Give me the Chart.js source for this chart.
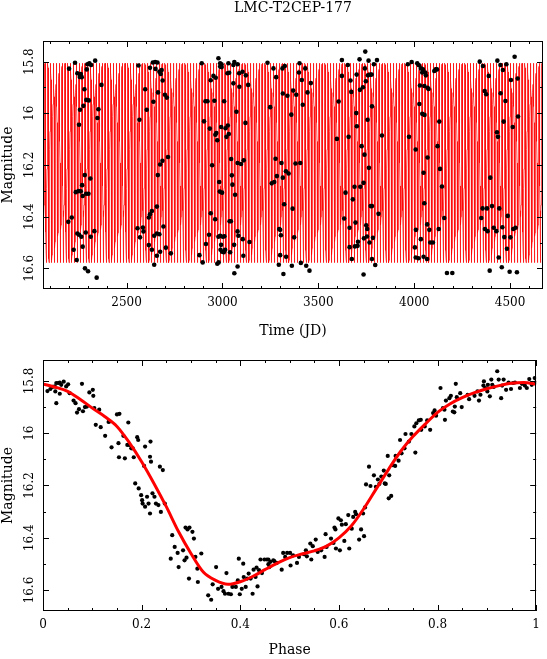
<!DOCTYPE html>
<html>
<head>
<meta charset="utf-8">
<script src="https://cdn.jsdelivr.net/npm/chart.js@4.4.1/dist/chart.umd.min.js"></script>
<style>
  body { margin: 0; background: #fff; }
  #wrap { position: relative; width: 547px; height: 659px; }
  canvas { position: absolute; left: 0; }
  #timeChart { top: 0; }
  #phaseChart { top: 340px; }
</style>
</head>
<body>
<div id="wrap">
  <canvas id="timeChart" width="547" height="340"></canvas>
  <canvas id="phaseChart" width="547" height="319"></canvas>
</div>
<script>
// star and fit
const starName = 'LMC-T2CEP-177';
const period = 14.9;
const epoch = 2060;

// fitted light curve (phase, magnitude)
const modelPhase = [0, 0.025, 0.05, 0.075, 0.1, 0.125, 0.15, 0.175, 0.2, 0.225, 0.25, 0.275, 0.3, 0.325, 0.35, 0.375, 0.4,
  0.425, 0.45, 0.475, 0.5, 0.525, 0.55, 0.575, 0.6, 0.625, 0.65, 0.675, 0.7, 0.725, 0.75, 0.775, 0.8, 0.825, 0.85,
  0.875, 0.9, 0.925, 0.95, 0.975, 1];
const modelMag = [15.812, 15.824, 15.840, 15.870, 15.904, 15.936, 15.974, 16.036, 16.109, 16.192, 16.281, 16.377, 16.460,
  16.531, 16.563, 16.578, 16.568, 16.548, 16.522, 16.497, 16.476, 16.462, 16.450, 16.432, 16.400, 16.355, 16.290,
  16.215, 16.140, 16.070, 16.013, 15.965, 15.920, 15.888, 15.864, 15.845, 15.830, 15.818, 15.809, 15.806, 15.812];

// observations vs time
const timeJD = [
  2200, 2231, 2243, 2256, 2261, 2266, 2292, 2296, 2306, 2315, 2336, 2369, 2280, 2290, 2303, 2275, 2257, 2252, 2353, 2348,
  2196, 2214, 2235, 2249, 2261, 2268, 2282, 2271, 2289, 2301, 2311, 2243, 2252, 2264, 2287, 2313, 2332, 2224, 2271, 2240,
  2283, 2299, 2344,
  2562, 2567, 2597, 2605, 2622, 2637, 2649, 2661, 2651, 2671, 2683, 2678, 2688, 2664, 2640, 2700, 2710, 2687, 2675, 2716,
  2663, 2658, 2632, 2622, 2616, 2557, 2570, 2588, 2585, 2644, 2658, 2671, 2692, 2616, 2632, 2658, 2675, 2705, 2731, 2644,
  2880, 2892, 2897, 2904, 2911, 2914, 2922, 2930, 2934, 2939, 2939, 2946, 2953, 2958, 2962, 2965, 2963, 2968, 2973, 2973,
  2980, 2979, 2988, 2995, 2988, 2996, 2983, 2986, 2998, 2993, 2990, 2998, 3007, 3014, 3002, 2979, 2988, 2993, 3010, 3009,
  3016, 3021, 3026, 3031, 3035, 3028, 3033, 3037, 3044, 3040, 3045, 3049, 3052, 3057, 3066, 3061, 3062, 3073, 3079, 3079,
  3083, 3079, 3088, 3097, 3087, 3105, 3111, 3106, 3120, 3122, 3134, 3141, 3109, 3079, 3062, 3057,
  3235, 3266, 3280, 3249, 3277, 3284, 3257, 3270, 3294, 3296, 3301, 3305, 3301, 3313, 3325, 3315, 3315, 3308, 3318, 3322,
  3331, 3332, 3339, 3345, 3359, 3362, 3366, 3369, 3374, 3381, 3385, 3399, 3402, 3406, 3409, 3414, 3419, 3432, 3437, 3444,
  3454, 3461,
  3597, 3606, 3623, 3623, 3635, 3642, 3654, 3658, 3663, 3663, 3668, 3672, 3675, 3680, 3689, 3691, 3694, 3698, 3700, 3701,
  3705, 3707, 3715, 3717, 3719, 3726, 3733, 3736, 3738, 3741, 3743, 3745, 3748, 3750, 3754, 3755, 3757, 3759, 3762, 3764,
  3767, 3771, 3773, 3780, 3780, 3778, 3780, 3785, 3790, 3797, 3806, 3814, 3832, 3736,
  3967, 3973, 3987, 4004, 4008, 4009, 4008, 4016, 4022, 4025, 4030, 4027, 4035, 4035, 4042, 4046, 4042, 4049, 4053, 4049,
  4053, 4054, 4058, 4061, 4067, 4070, 4070, 4075, 4068, 4079, 4084, 4098, 4105, 4112, 4119, 4122, 4128, 4131, 4135, 4145,
  4157, 4171, 4199,
  4342, 4350, 4357, 4359, 4368, 4369, 4376, 4383, 4380, 4389, 4394, 4397, 4406, 4415, 4429, 4432, 4434, 4437, 4441, 4444,
  4450, 4451, 4457, 4460, 4463, 4467, 4470, 4476, 4481, 4484, 4488, 4498, 4502, 4505, 4514, 4517, 4524, 4529, 4536, 4540,
  4542
];
const timeMag = [
  15.827, 15.804, 15.845, 15.859, 15.848, 15.860, 15.830, 15.810, 15.806, 15.813, 15.796, 15.890, 15.907, 15.948, 15.950, 15.971, 15.986, 16.044, 15.984, 16.018,
  16.420, 16.403, 16.305, 16.301, 16.302, 16.278, 16.239, 16.320, 16.311, 16.311, 16.252, 16.465, 16.470, 16.478, 16.461, 16.478, 16.456, 16.528, 16.516, 16.568,
  16.600, 16.611, 16.636,
  15.815, 16.025, 15.907, 15.986, 15.824, 15.803, 15.801, 15.803, 15.828, 15.839, 15.832, 15.848, 15.873, 15.919, 15.955, 15.928, 15.939, 16.184, 16.198, 16.169,
  16.239, 16.361, 16.378, 16.391, 16.403, 16.445, 16.480, 16.457, 16.442, 16.474, 16.465, 16.468, 16.438, 16.510, 16.528, 16.551, 16.536, 16.520, 16.542, 16.586,
  16.549, 15.806, 16.577, 16.031, 15.953, 16.506, 15.953, 16.470, 16.059, 16.387, 15.872, 16.201, 15.855, 15.951, 16.410, 15.862, 16.083, 16.076, 16.104, 16.582,
  16.577, 15.787, 15.806, 15.810, 15.819, 15.821, 16.266, 16.303, 16.307, 16.053, 16.528, 16.536, 16.538, 16.528, 16.478, 16.478, 16.474, 16.509, 16.476, 15.953,
  16.058, 16.091, 15.845, 15.806, 15.843, 16.047, 16.080, 16.418, 16.418, 16.538, 16.177, 16.240, 16.276, 15.884, 16.315, 16.509, 16.619, 15.994, 16.593, 16.457,
  16.474, 16.192, 15.897, 16.196, 15.845, 15.839, 16.182, 16.487, 16.037, 15.853, 15.890, 16.498, 16.551, 15.810, 15.801, 15.813,
  15.804, 15.826, 15.860, 15.976, 16.176, 16.243, 16.271, 16.266, 16.586, 16.448, 16.451, 16.472, 16.549, 15.826, 15.817, 15.923, 16.249, 16.192, 16.622, 16.352,
  16.224, 16.555, 15.932, 16.233, 16.005, 16.590, 16.369, 15.912, 16.480, 16.194, 15.928, 15.842, 15.806, 16.192, 16.579, 15.871, 15.967, 15.826, 16.590, 15.919,
  16.609, 15.883,
  16.099, 15.954, 15.794, 15.855, 16.407, 16.307, 15.813, 16.091, 16.443, 16.518, 15.873, 15.917, 16.564, 16.333, 16.284, 16.515, 16.423, 15.999, 15.850, 16.050,
  16.513, 16.497, 15.791, 15.909, 16.284, 16.127, 15.899, 16.269, 16.484, 16.160, 15.826, 15.761, 15.876, 16.433, 16.477, 16.448, 16.025, 15.853, 15.796, 16.211,
  16.500, 15.850, 16.359, 16.359, 16.564, 15.850, 15.973, 16.482, 15.810, 16.587, 15.794, 16.389, 16.086, 16.624,
  15.810, 16.091, 15.801, 16.519, 16.140, 16.451, 16.558, 15.806, 16.561, 15.814, 15.892, 15.964, 16.487, 15.826, 15.842, 15.830, 16.002, 16.230, 16.348, 16.555,
  15.894, 16.006, 15.842, 15.853, 16.564, 16.171, 15.901, 15.906, 16.430, 16.451, 16.500, 16.500, 15.836, 15.830, 15.830, 16.127, 16.448, 16.032, 16.215, 16.283,
  16.405, 16.618, 16.618,
  15.800, 16.405, 16.368, 15.817, 15.914, 16.448, 15.926, 16.456, 16.368, 15.855, 16.609, 16.249, 16.359, 16.443, 16.456, 16.073, 15.796, 16.091, 16.558, 16.368,
  15.813, 15.922, 16.596, 16.441, 15.832, 16.032, 16.479, 15.952, 15.810, 16.524, 16.397, 16.613, 16.480, 15.871, 16.053, 16.448, 15.781, 16.443, 16.615, 15.865,
  16.012
];

// observations folded with the period
const phaseObs = [
  0.009, 0.015, 0.019, 0.024, 0.027, 0.031, 0.034, 0.037, 0.042, 0.047, 0.051, 0.027, 0.034, 0.025, 0.054, 0.062, 0.066, 0.069, 0.073, 0.079,
  0.081, 0.085, 0.089, 0.094, 0.101, 0.102, 0.104, 0.107, 0.114, 0.117, 0.126, 0.133, 0.135, 0.139, 0.150, 0.155, 0.153, 0.154, 0.163, 0.166,
  0.171, 0.173, 0.175, 0.179, 0.182, 0.184, 0.187, 0.191, 0.193, 0.194, 0.199, 0.201, 0.202, 0.205, 0.207, 0.207, 0.211, 0.214, 0.217, 0.218,
  0.217, 0.219, 0.222, 0.226, 0.229, 0.234, 0.237, 0.239, 0.243, 0.247, 0.262, 0.267, 0.259, 0.273, 0.275, 0.284, 0.287, 0.289, 0.293, 0.297,
  0.296, 0.291, 0.303, 0.306, 0.309, 0.313, 0.314, 0.321, 0.335, 0.341, 0.344, 0.351, 0.355, 0.362, 0.366, 0.369, 0.372, 0.376, 0.381, 0.384,
  0.391, 0.395, 0.397, 0.399, 0.403, 0.406, 0.407, 0.411, 0.414, 0.417, 0.421, 0.425, 0.427, 0.431, 0.433, 0.435, 0.438, 0.441, 0.444, 0.449,
  0.454, 0.457, 0.461, 0.467,
  0.457, 0.459, 0.469, 0.474, 0.484, 0.487, 0.491, 0.495, 0.501, 0.502, 0.507, 0.515, 0.519, 0.529, 0.533, 0.535, 0.542, 0.544, 0.547, 0.553,
  0.557, 0.564, 0.571, 0.573, 0.575, 0.584, 0.589, 0.591, 0.593, 0.594, 0.599, 0.604, 0.606, 0.611, 0.602, 0.614, 0.619, 0.621, 0.626, 0.629,
  0.633, 0.635, 0.641, 0.645, 0.649, 0.651, 0.653, 0.655, 0.661, 0.664, 0.671, 0.675, 0.679, 0.682, 0.686, 0.691, 0.693, 0.695, 0.699, 0.702,
  0.701, 0.706, 0.709, 0.714, 0.715, 0.721, 0.724, 0.727, 0.733, 0.735, 0.742, 0.747, 0.753, 0.755, 0.757, 0.762, 0.766, 0.767, 0.774, 0.779,
  0.785, 0.791, 0.794, 0.797, 0.806, 0.811, 0.814, 0.815, 0.817, 0.824, 0.827, 0.831, 0.834, 0.835, 0.837, 0.839, 0.846, 0.849, 0.861, 0.864,
  0.875, 0.881, 0.884, 0.887, 0.893, 0.894, 0.897, 0.901, 0.902, 0.906, 0.909, 0.911, 0.914, 0.921, 0.924, 0.929, 0.931, 0.934, 0.939, 0.944,
  0.949, 0.953, 0.957, 0.967, 0.971, 0.977, 0.981, 0.986, 0.991, 0.997, 0.999
];
const phaseMag = [
  15.839, 15.831, 15.823, 15.821, 15.808, 15.808, 15.806, 15.815, 15.803, 15.821, 15.813, 15.885, 15.849, 15.840, 15.847, 15.875, 15.885, 15.921, 15.908, 15.811,
  15.916, 15.900, 15.898, 15.844, 15.834, 15.857, 15.904, 15.968, 15.910, 15.977, 16.010, 15.957, 15.955, 16.054, 15.928, 15.926, 16.038, 16.092, 16.010, 16.096,
  16.045, 15.959, 16.045, 16.058, 16.058, 16.092, 16.192, 16.015, 16.026, 16.211, 16.237, 16.256, 16.269, 16.125, 16.051, 16.281, 16.243, 16.269, 16.090, 16.032,
  16.307, 16.109, 16.230, 16.243, 16.269, 16.275, 16.128, 16.301, 16.141, 16.269, 16.390, 16.435, 16.480, 16.458, 16.512, 16.448, 16.486, 16.361, 16.368, 16.361,
  16.556, 16.476, 16.377, 16.403, 16.473, 16.518, 16.569, 16.460, 16.620, 16.637, 16.578, 16.512, 16.595, 16.588, 16.604, 16.614, 16.535, 16.614, 16.616, 16.588,
  16.588, 16.563, 16.480, 16.616, 16.595, 16.499, 16.550, 16.588, 16.556, 16.537, 16.556, 16.614, 16.522, 16.550, 16.514, 16.586, 16.524, 16.483, 16.535, 16.483,
  16.483, 16.501, 16.492, 16.486,
  16.483, 16.512, 16.489, 16.496, 16.522, 16.458, 16.473, 16.458, 16.458, 16.506, 16.467, 16.496, 16.473, 16.463, 16.448, 16.471, 16.422, 16.483, 16.432, 16.407,
  16.454, 16.448, 16.473, 16.386, 16.435, 16.403, 16.420, 16.361, 16.368, 16.441, 16.326, 16.333, 16.350, 16.412, 16.448, 16.348, 16.313, 16.441, 16.365, 16.320,
  16.301, 16.310, 16.407, 16.368, 16.307, 16.394, 16.284, 16.196, 16.128, 16.202, 16.161, 16.205, 16.177, 16.194, 16.166, 16.143, 16.192, 16.194, 16.087, 16.161,
  16.249, 16.240, 16.122, 16.125, 16.087, 16.105, 16.026, 16.077, 16.058, 16.003, 16.032, 16.003, 15.974, 16.074, 15.962, 15.951, 15.949, 15.987, 15.974, 15.951,
  15.987, 15.923, 15.913, 15.933, 15.827, 15.904, 15.910, 15.949, 15.875, 15.866, 15.857, 15.917, 15.920, 15.898, 15.811, 15.862, 15.847, 15.900, 15.853, 15.870,
  15.857, 15.840, 15.875, 15.853, 15.818, 15.802, 15.827, 15.840, 15.815, 15.859, 15.795, 15.815, 15.823, 15.763, 15.795, 15.866, 15.818, 15.795, 15.834, 15.806,
  15.831, 15.808, 15.806, 15.827, 15.811, 15.818, 15.827, 15.793, 15.815, 15.789, 15.806
];

// axes
const magMin = 15.72, magMax = 16.68;
const jdMin = 2064, jdMax = 4672;
const magTicks = [15.8, 16, 16.2, 16.4, 16.6];
const magMinor = [15.9, 16.1, 16.3, 16.5];
const jdTicks = [2500, 3000, 3500, 4000, 4500];
const phaseTicks = [0, 0.2, 0.4, 0.6, 0.8, 1];

const fontFamily = '"DejaVu Serif", serif';

let jdMinor = [];
for (let v = 2100; v < jdMax; v += 100) jdMinor.push(v);
let phaseMinor = [];
for (let i = 1; i < 20; i++) phaseMinor.push(i / 20);

// model repeated over the whole time range
let modelTime = [];
for (let k = 0; epoch + k * period < jdMax + period; k++) {
  for (let i = 0; i < modelPhase.length - 1; i++) {
    modelTime.push({x: epoch + (k + modelPhase[i]) * period, y: modelMag[i]});
  }
}

// box, inward ticks, rotated magnitude labels and the title
const frameTicks = {
  id: 'frameTicks',
  afterDraw(chart, args, opts) {
    const {ctx, chartArea: a, scales: {x, y}} = chart;
    ctx.save();
    ctx.strokeStyle = '#000';
    ctx.lineWidth = 1;
    ctx.strokeRect(Math.round(a.left) + 0.5, Math.round(a.top) + 0.5,
      Math.round(a.right - a.left) - 1, Math.round(a.bottom - a.top) - 1);
    ctx.beginPath();
    const xt = (vals, len) => vals.forEach(v => {
      const p = Math.round(x.getPixelForValue(v)) + 0.5;
      ctx.moveTo(p, a.bottom); ctx.lineTo(p, a.bottom - len);
      ctx.moveTo(p, a.top); ctx.lineTo(p, a.top + len);
    });
    const yt = (vals, len) => vals.forEach(v => {
      const p = Math.round(y.getPixelForValue(v)) + 0.5;
      ctx.moveTo(a.left, p); ctx.lineTo(a.left + len, p);
      ctx.moveTo(a.right, p); ctx.lineTo(a.right - len, p);
    });
    xt(opts.xMajor, 6); xt(opts.xMinor, 3);
    yt(magTicks, 6); yt(magMinor, 3);
    ctx.stroke();

    ctx.fillStyle = '#000';
    ctx.font = '12px ' + fontFamily;
    ctx.textAlign = 'center';
    ctx.textBaseline = 'middle';
    magTicks.forEach(v => {
      ctx.save();
      ctx.translate(30, y.getPixelForValue(v));
      ctx.rotate(-Math.PI / 2);
      ctx.fillText(String(v), 0, 0);
      ctx.restore();
    });
    if (opts.title) {
      ctx.font = '14px ' + fontFamily;
      ctx.fillText(opts.title, (a.left + a.right) / 2, 8);
    }
    ctx.restore();
  }
};

function magAxis() {
  return {
    type: 'linear', reverse: true, min: magMin, max: magMax,
    grid: {display: false, drawTicks: false}, border: {display: false},
    ticks: {display: false},
    title: {display: true, text: 'Magnitude', color: '#000', font: {family: fontFamily, size: 14}, padding: 0},
    afterFit(s) { s.width = 43; }
  };
}

function bottomAxis(min, max, ticks, text, height) {
  return {
    type: 'linear', min: min, max: max,
    grid: {display: false, drawTicks: false}, border: {display: false},
    afterBuildTicks(s) { s.ticks = ticks.map(v => ({value: v})); },
    ticks: {padding: 7, maxRotation: 0, autoSkip: false, color: '#000',
      font: {family: fontFamily, size: 12}, callback: v => String(v)},
    title: {display: true, text: text, color: '#000', font: {family: fontFamily, size: 14}, padding: 0},
    afterFit(s) { s.height = height; }
  };
}

new Chart(document.getElementById('timeChart'), {
  type: 'scatter',
  data: {
    datasets: [{
      data: timeJD.map((t, i) => ({x: t, y: timeMag[i]})),
      pointRadius: 2.3, backgroundColor: '#000', borderWidth: 0
    }, {
      type: 'line',
      data: modelTime,
      borderColor: '#ff0000', borderWidth: 0.7, pointRadius: 0, fill: false, tension: 0
    }]
  },
  options: {
    responsive: false, animation: false, events: [],
    layout: {padding: {left: 0, right: 4, top: 41, bottom: 0}},
    plugins: {
      legend: {display: false}, tooltip: {enabled: false},
      frameTicks: {xMajor: jdTicks, xMinor: jdMinor, title: starName}
    },
    scales: {
      x: bottomAxis(jdMin, jdMax, jdTicks, 'Time (JD)', 51),
      y: magAxis()
    }
  },
  plugins: [frameTicks]
});

new Chart(document.getElementById('phaseChart'), {
  type: 'scatter',
  data: {
    datasets: [{
      type: 'line',
      data: modelPhase.map((p, i) => ({x: p, y: modelMag[i]})),
      borderColor: '#ff0000', borderWidth: 3, pointRadius: 0, fill: false,
      cubicInterpolationMode: 'monotone'
    }, {
      data: phaseObs.map((p, i) => ({x: p, y: phaseMag[i]})),
      pointRadius: 2.1, backgroundColor: '#000', borderWidth: 0
    }]
  },
  options: {
    responsive: false, animation: false, events: [],
    layout: {padding: {left: 0, right: 4, top: 20, bottom: 0}},
    plugins: {
      legend: {display: false}, tooltip: {enabled: false},
      frameTicks: {xMajor: phaseTicks, xMinor: phaseMinor}
    },
    scales: {
      x: bottomAxis(0, 1, phaseTicks, 'Phase', 48),
      y: magAxis()
    }
  },
  plugins: [frameTicks]
});
</script>
</body>
</html>
